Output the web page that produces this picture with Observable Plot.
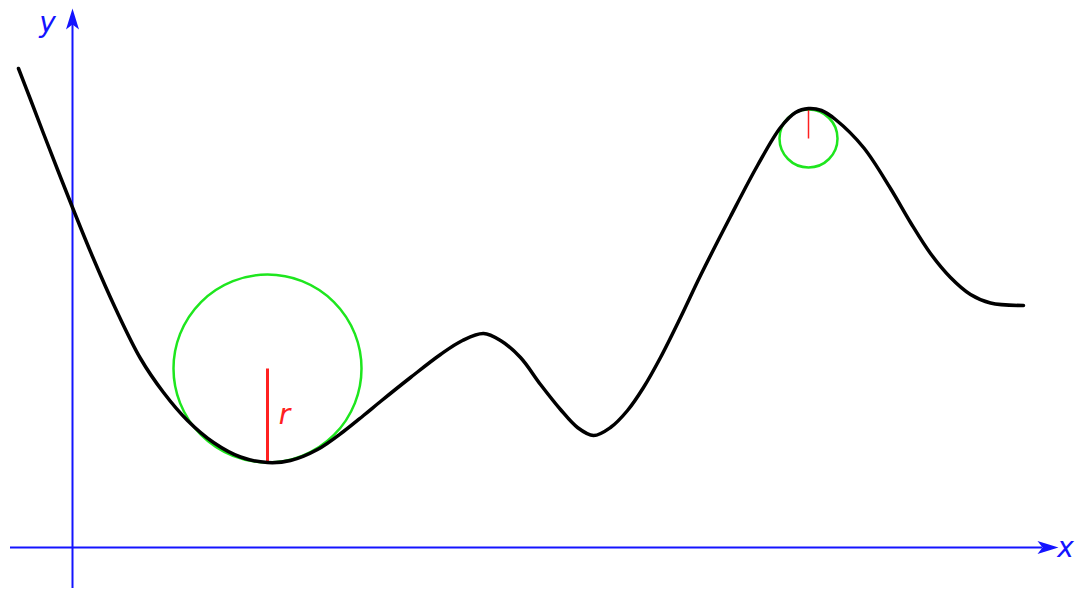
<!DOCTYPE html>
<html>
<head>
<meta charset="utf-8">
<script src="https://cdn.jsdelivr.net/npm/d3@7"></script>
<script src="https://cdn.jsdelivr.net/npm/@observablehq/plot@0.6"></script>
<style>
  html, body { margin: 0; padding: 0; background: #fff; }
  #chart svg { display: block; }
</style>
</head>
<body>
<div id="chart"></div>
<script>
// Curve samples (x, y) in the chart's own coordinate system (origin at axes crossing)
const curveX = [-54, -42, -29, -15, 0, 20, 43, 68, 91, 115, 141, 168, 195, 218, 245, 271, 291, 308, 338, 368, 390, 411, 428, 448, 468, 488, 505, 521, 538, 555, 571, 588, 608, 628, 658, 685, 708, 723, 736, 749, 763, 791, 818, 838, 858, 878, 898, 918, 951];
const curveY = [479, 448, 414, 378, 340, 291, 239, 189, 155, 127, 105, 90.5, 85, 87, 98, 116, 132, 146, 170, 193, 207, 214, 207, 190, 163, 138, 120, 112, 120, 137, 160, 190, 230, 272, 331, 382, 420, 435, 439, 437, 428, 400, 359, 325, 294, 270, 253, 244.5, 242];

// Osculating circles: centre and radius
const circleX = [195, 736];
const circleY = [179, 409];
const circleR = [94, 29];
// Radius segments: from centre to the touching point on the curve
const touchY = [85, 438];
const radiusWidth = [3, 1.5];

// Axes
const xAxisFrom = -62, xAxisTip = 986;
const yAxisFrom = -41, yAxisTip = 539;
const labels = [
  {text: "y", x: -25, y: 524, anchor: "middle"},
  {text: "x", x: 993, y: -1, anchor: "start"},
  {text: "r", x: 212, y: 132, anchor: "middle"}
];

const curve = curveX.map((x, i) => ({x, y: curveY[i]}));
const circles = circleX.map((x, i) => ({x, y: circleY[i], r: circleR[i], ty: touchY[i], w: radiusWidth[i]}));

// Notched arrowhead pointing right, tip at origin
const arrowHead = {
  draw(context) {
    context.moveTo(0, 0);
    context.lineTo(-21, -6.5);
    context.lineTo(-16, 0);
    context.lineTo(-21, 6.5);
    context.closePath();
  }
};

const blue = "#1414ff";
const chart = Plot.plot({
  width: 1075,
  height: 592,
  margin: 0,
  x: {domain: [-72, 1003], axis: null},
  y: {domain: [-45, 547], axis: null},
  r: {type: "identity"},
  style: {background: "#fff"},
  marks: [
    // axes
    Plot.ruleY([0], {x1: xAxisFrom, x2: xAxisTip - 16, stroke: blue, strokeWidth: 2}),
    Plot.ruleX([0], {y1: yAxisFrom, y2: yAxisTip - 16, stroke: blue, strokeWidth: 2}),
    Plot.dot([{x: xAxisTip, y: 0, a: 0}, {x: 0, y: yAxisTip, a: -90}], {
      x: "x", y: "y", symbol: arrowHead, rotate: "a", fill: blue, stroke: "none"
    }),
    // osculating circles
    Plot.dot(circles, {x: "x", y: "y", r: "r", stroke: "#1ee61e", strokeWidth: 2.5, fill: "none"}),
    // radius segments
    Plot.link(circles, {x1: "x", x2: "x", y1: "y", y2: "ty", stroke: "#ff2020", strokeWidth: "w"}),
    // the curve
    Plot.line(curve, {x: "x", y: "y", curve: "catmull-rom", stroke: "#000", strokeWidth: 3.5, strokeLinecap: "round"}),
    // labels
    Plot.text(labels.filter(d => d.text !== "r"), {
      x: "x", y: "y", text: "text", textAnchor: "anchor", fill: blue,
      fontSize: 28, fontStyle: "italic", fontFamily: "DejaVu Sans"
    }),
    Plot.text(labels.filter(d => d.text === "r"), {
      x: "x", y: "y", text: "text", fill: "#ff2020",
      fontSize: 28, fontStyle: "italic", fontFamily: "DejaVu Sans"
    })
  ]
});
document.getElementById("chart").appendChild(chart);
</script>
</body>
</html>
